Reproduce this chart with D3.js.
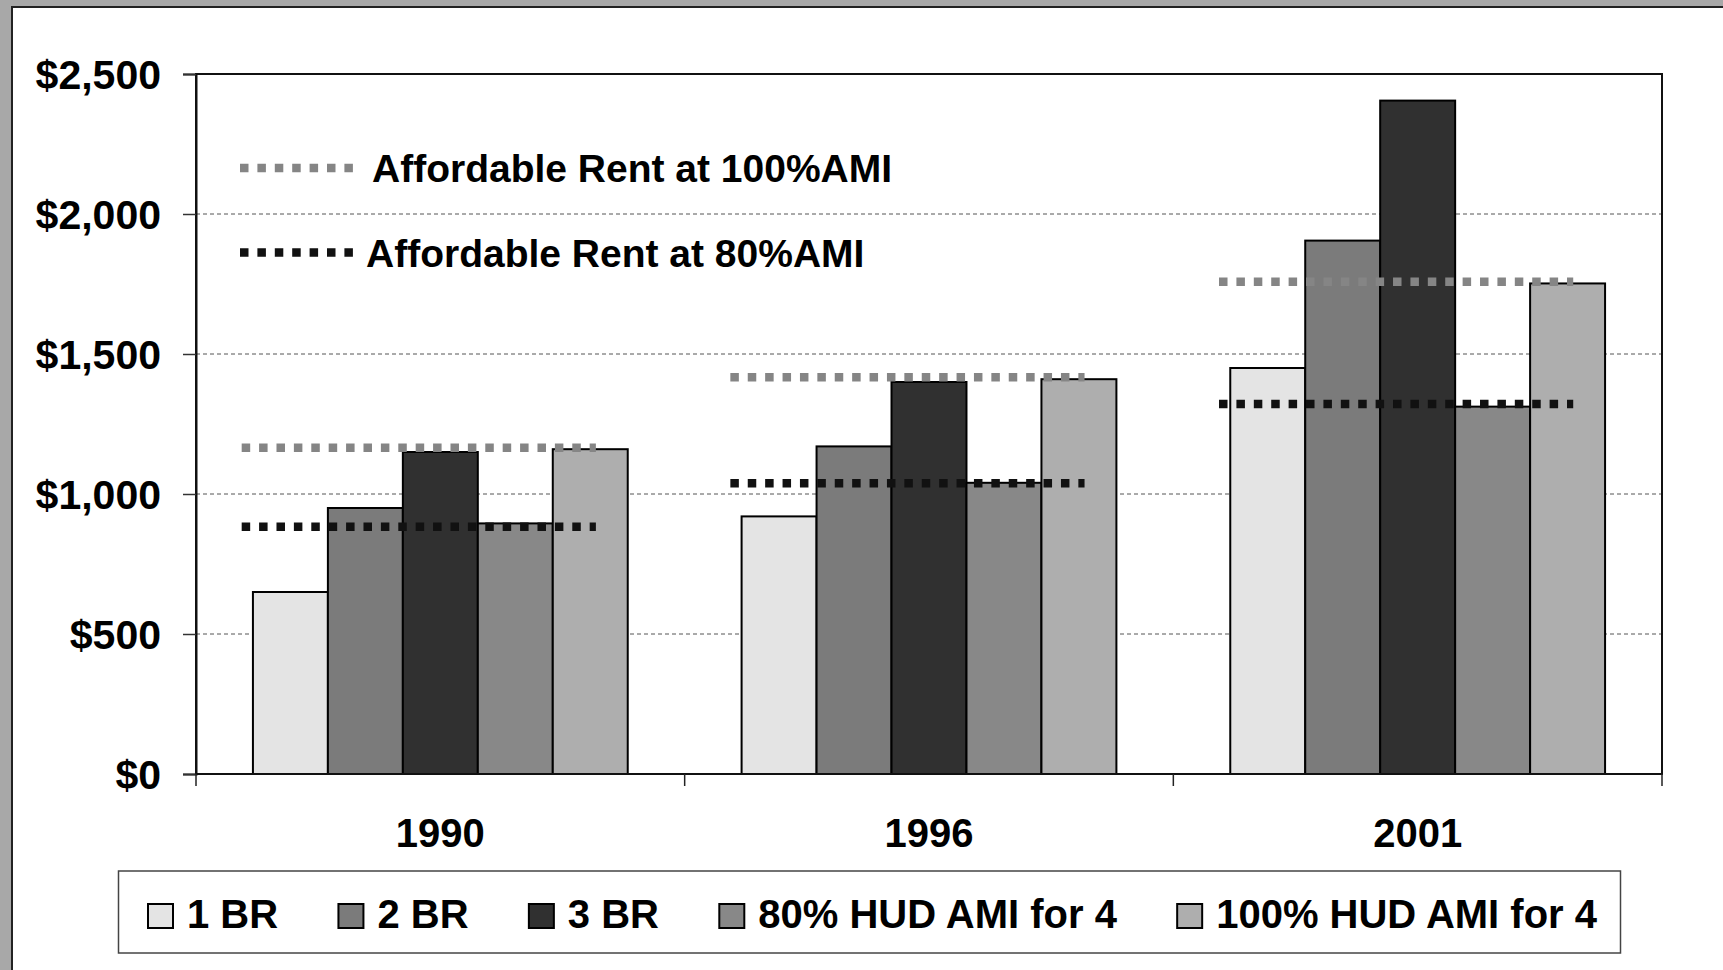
<!DOCTYPE html>
<html>
<head>
<meta charset="utf-8">
<script src="https://cdnjs.cloudflare.com/ajax/libs/d3/7.8.5/d3.min.js"></script>
<style>
	body { margin: 0; background: #a8a8a8; }
	svg { display: block; }
	text { font-family: "Liberation Sans", Arial, sans-serif; font-weight: bold; fill: #000; }
</style>
</head>
<body>
<div id="chart"></div>
<script>
// values
var years = ["1990", "1996", "2001"];
var seriesNames = ["1 BR", "2 BR", "3 BR", "80% HUD AMI for 4", "100% HUD AMI for 4"];
var oneBR = [650, 920, 1450];
var twoBR = [950, 1170, 1905];
var threeBR = [1150, 1400, 2405];
var hud80 = [895, 1040, 1312];
var hud100 = [1160, 1410, 1752];
var afford100 = [1165, 1417, 1758];
var afford80 = [883, 1038, 1321];
var yTicks = [0, 500, 1000, 1500, 2000, 2500];
var lineNames = ["Affordable Rent at 100%AMI", "Affordable Rent at 80%AMI"];

var seriesValues = [oneBR, twoBR, threeBR, hud80, hud100];
var seriesColors = ["#e4e4e4", "#7b7b7b", "#303030", "#888888", "#aeaeae"];
var lineColors = ["#858585", "#111111"];

var W = 1723, H = 970,
	margin = {top: 74, right: 61, bottom: 196, left: 196},
	width = W - margin.left - margin.right,
	height = H - margin.top - margin.bottom;

var svg = d3.select("#chart").append("svg")
	.attr("width", W)
	.attr("height", H);

// white sheet on the grey scan background
svg.append("rect")
	.attr("x", 12).attr("y", 7)
	.attr("width", W + 50).attr("height", H + 50)
	.attr("fill", "#fff")
	.attr("stroke", "#222")
	.attr("stroke-width", 2);

var g = svg.append("g").attr("transform", "translate(" + margin.left + "," + margin.top + ")");

var x0 = d3.scaleBand()
	.domain(years)
	.range([0, width])
	.paddingInner(0.233)
	.paddingOuter(0.1165);

var x1 = d3.scaleBand()
	.domain(seriesNames)
	.range([0, x0.bandwidth()]);

var y = d3.scaleLinear()
	.domain([0, 2500])
	.range([height, 0]);

// dashed grid
g.append("g")
	.selectAll("line")
	.data(yTicks.slice(1, -1))
	.enter().append("line")
	.attr("x1", 0).attr("x2", width)
	.attr("y1", function (d) { return y(d); })
	.attr("y2", function (d) { return y(d); })
	.attr("stroke", "#555")
	.attr("stroke-width", 1)
	.attr("stroke-dasharray", "4,3");

// bars
var groups = g.append("g")
	.selectAll("g")
	.data(years)
	.enter().append("g")
	.attr("transform", function (d) { return "translate(" + x0(d) + ",0)"; });

groups.selectAll("rect")
	.data(function (d, i) {
		return seriesNames.map(function (s, k) { return {key: s, value: seriesValues[k][i], color: seriesColors[k]}; });
	})
	.enter().append("rect")
	.attr("x", function (d) { return x1(d.key); })
	.attr("y", function (d) { return y(d.value); })
	.attr("width", x1.bandwidth())
	.attr("height", function (d) { return height - y(d.value); })
	.attr("fill", function (d) { return d.color; })
	.attr("stroke", "#000")
	.attr("stroke-width", 2);

// affordable rent dotted lines
var dots = "8.5,8.9";
[afford100, afford80].forEach(function (vals, k) {
	g.append("g")
		.selectAll("line")
		.data(years)
		.enter().append("line")
		.attr("x1", function (d) { return x0(d) - 0.03 * x0.bandwidth(); })
		.attr("x2", function (d) { return x0(d) + 0.915 * x0.bandwidth(); })
		.attr("y1", function (d, i) { return y(vals[i]); })
		.attr("y2", function (d, i) { return y(vals[i]); })
		.attr("stroke", lineColors[k])
		.attr("stroke-width", 8.5)
		.attr("stroke-dasharray", dots);
});

// frame
g.append("rect")
	.attr("width", width).attr("height", height)
	.attr("fill", "none")
	.attr("stroke", "#111")
	.attr("stroke-width", 2);

// Left Axis
var yAxis = g.append("g")
	.call(d3.axisLeft(y).tickValues(yTicks).tickSize(13).tickPadding(22)
		.tickFormat(function (d) { return "$" + d3.format(",")(d); }));
yAxis.select(".domain").attr("stroke", "#111").attr("stroke-width", 2);
yAxis.selectAll(".tick line").attr("stroke", "#333").attr("stroke-width", 1.5);
yAxis.selectAll("text").attr("font-size", 41).attr("dy", "0.35em");

// Bottom Axis: ticks between the years
var xAxis = g.append("g")
	.attr("transform", "translate(0," + height + ")");
xAxis.selectAll("line")
	.data([0].concat(years))
	.enter().append("line")
	.attr("x1", function (d) { return d === 0 ? 0 : x0(d) + x0.bandwidth() + x0.step() * x0.paddingInner() / 2; })
	.attr("x2", function (d) { return d === 0 ? 0 : x0(d) + x0.bandwidth() + x0.step() * x0.paddingInner() / 2; })
	.attr("y1", 0).attr("y2", 12)
	.attr("stroke", "#222")
	.attr("stroke-width", 1.5);
xAxis.selectAll("text")
	.data(years)
	.enter().append("text")
	.attr("x", function (d) { return x0(d) + x0.bandwidth() / 2; })
	.attr("y", 73)
	.attr("text-anchor", "middle")
	.attr("font-size", 40)
	.text(function (d) { return d; });

// legend for the dotted lines, inside the plot
var lineLegend = g.append("g").selectAll("g")
	.data(lineNames)
	.enter().append("g")
	.attr("transform", function (d, i) { return "translate(44," + (94 + i * 84.5) + ")"; });
lineLegend.append("line")
	.attr("x1", 0).attr("x2", 113)
	.attr("stroke", function (d, i) { return lineColors[i]; })
	.attr("stroke-width", 8.5)
	.attr("stroke-dasharray", dots);
lineLegend.append("text")
	.attr("x", function (d, i) { return i === 0 ? 132 : 126; })
	.attr("y", 14)
	.attr("font-size", 39)
	.text(function (d) { return d; });

// bottom legend box
var legend = svg.append("g");
legend.append("rect")
	.attr("x", 118.5).attr("y", 871)
	.attr("width", 1502).attr("height", 82)
	.attr("fill", "#fff")
	.attr("stroke", "#444")
	.attr("stroke-width", 1.5);

var items = legend.selectAll("g")
	.data(seriesNames)
	.enter().append("g");
items.append("rect")
	.attr("width", 25).attr("height", 24)
	.attr("y", -24)
	.attr("fill", function (d, i) { return seriesColors[i]; })
	.attr("stroke", "#000")
	.attr("stroke-width", 2);
items.append("text")
	.attr("x", 39)
	.attr("font-size", 40)
	.text(function (d) { return d; });

// spread items so the first swatch starts at 148 and the last text ends near 1597
var widths = [];
items.each(function () { widths.push(39 + d3.select(this).select("text").node().getComputedTextLength()); });
var gap = (1597 - 148 - d3.sum(widths)) / (widths.length - 1);
var pos = 148;
items.attr("transform", function (d, i) {
	var t = "translate(" + pos + ",928)";
	pos += widths[i] + gap;
	return t;
});
</script>
</body>
</html>
